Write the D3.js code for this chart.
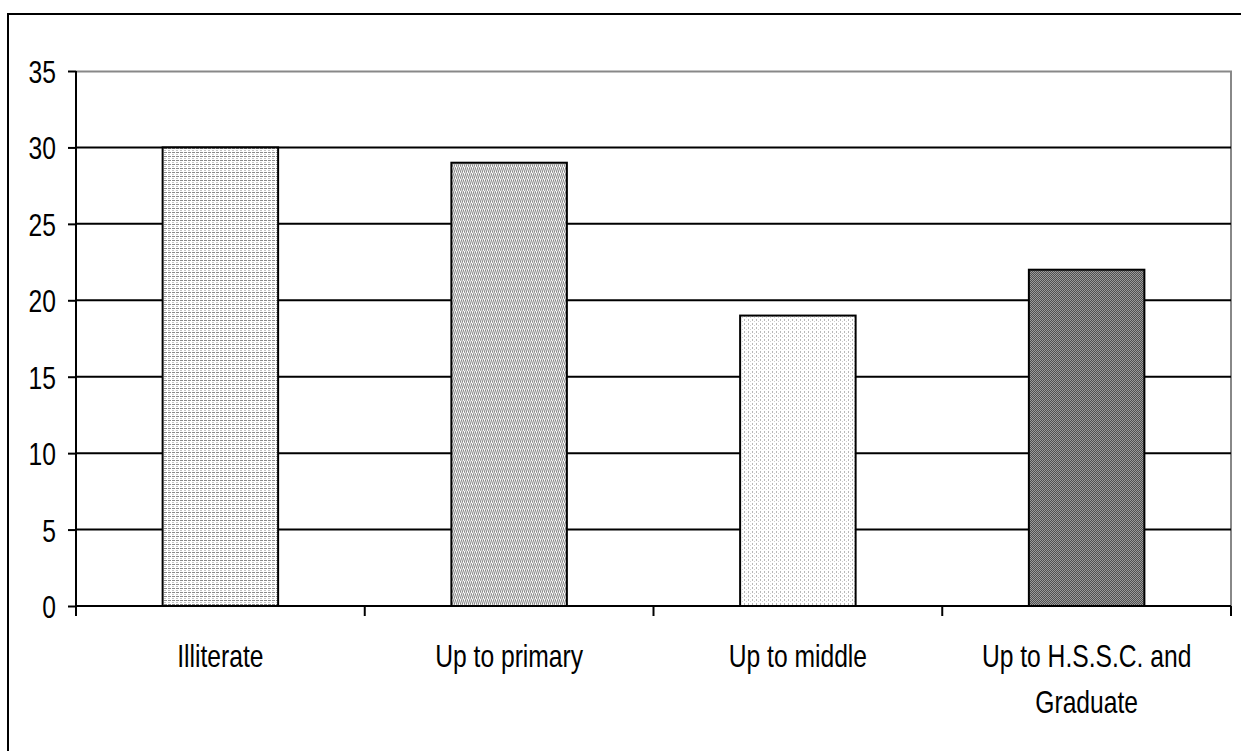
<!DOCTYPE html>
<html>
<head>
<meta charset="utf-8">
<script src="https://cdn.jsdelivr.net/npm/d3@7"></script>
<style>
  body { margin: 0; background: #fff; }
  svg { display: block; }
  .tick text { font-family: "Liberation Sans Narrow", "Arial Narrow", "Liberation Sans", sans-serif; font-size: 32px; fill: #000; }
  .cat-label { font-family: "Liberation Sans Narrow", "Arial Narrow", "Liberation Sans", sans-serif; font-size: 32px; fill: #000; }
</style>
</head>
<body>
<svg id="chart" width="1241" height="751"></svg>
<script>
const categories = ['Illiterate', 'Up to primary', 'Up to middle', 'Up to H.S.S.C. and Graduate'];
const values = [30, 29, 19, 22];
const yTicks = [0, 5, 10, 15, 20, 25, 30, 35];
const patternIds = ['pat-hdash', 'pat-zigzag', 'pat-dots', 'pat-check'];

const width = 1241;
const height = 751;
const margin = { top: 71, right: 10, bottom: 145, left: 76 };
const plotW = 1231 - margin.left;
const plotH = 606 - margin.top;
const squeeze = 0.77; // the original uses a narrow face, we condense the regular one

const svg = d3.select('#chart');

// fill patterns imitating the old office-style hatching
const defs = svg.append('defs');

const hdash = defs.append('pattern').attr('id', 'pat-hdash')
  .attr('patternUnits', 'userSpaceOnUse').attr('width', 4).attr('height', 4);
hdash.append('rect').attr('width', 4).attr('height', 4).attr('fill', '#fff');
hdash.append('rect').attr('x', 0).attr('y', 1).attr('width', 3).attr('height', 1).attr('fill', '#8a8a8a');
hdash.append('rect').attr('x', 0).attr('y', 3).attr('width', 2).attr('height', 1).attr('fill', '#c4c4c4');

const zig = defs.append('pattern').attr('id', 'pat-zigzag')
  .attr('patternUnits', 'userSpaceOnUse').attr('width', 4).attr('height', 6);
zig.append('rect').attr('width', 4).attr('height', 6).attr('fill', '#fff');
zig.append('path').attr('d', 'M0,6 L2,0 M2,6 L4,0').attr('stroke', '#8c8c8c').attr('stroke-width', 1.1).attr('fill', 'none');

const dots = defs.append('pattern').attr('id', 'pat-dots')
  .attr('patternUnits', 'userSpaceOnUse').attr('width', 4).attr('height', 4);
dots.append('rect').attr('width', 4).attr('height', 4).attr('fill', '#fff');
dots.append('rect').attr('x', 0).attr('y', 0).attr('width', 1).attr('height', 2).attr('fill', '#b8b8b8');
dots.append('rect').attr('x', 2).attr('y', 2).attr('width', 1).attr('height', 1).attr('fill', '#d0d0d0');

const check = defs.append('pattern').attr('id', 'pat-check')
  .attr('patternUnits', 'userSpaceOnUse').attr('width', 2).attr('height', 2);
check.append('rect').attr('width', 2).attr('height', 2).attr('fill', '#9a9a9a');
check.append('rect').attr('x', 0).attr('y', 0).attr('width', 1).attr('height', 1).attr('fill', '#505050');
check.append('rect').attr('x', 1).attr('y', 1).attr('width', 1).attr('height', 1).attr('fill', '#505050');

// outer chart frame: only left and top edges visible in the crop
svg.append('line').attr('x1', 8).attr('x2', 8).attr('y1', 13).attr('y2', height).attr('stroke', '#000').attr('stroke-width', 2);
svg.append('line').attr('x1', 7).attr('x2', width).attr('y1', 14).attr('y2', 14).attr('stroke', '#000').attr('stroke-width', 2);

const g = svg.append('g').attr('transform', `translate(${margin.left},${margin.top})`);

const x = d3.scaleBand().domain(categories).range([0, plotW]).paddingInner(0.6).paddingOuter(0.3);
const xOuter = d3.scaleBand().domain(categories).range([0, plotW]);
const y = d3.scaleLinear().domain([0, 35]).range([plotH, 0]);

// plot area border (grey top and right)
g.append('path')
  .attr('d', `M0,0.5 H${plotW} V${plotH}`)
  .attr('fill', 'none').attr('stroke', '#888').attr('stroke-width', 2);

// gridlines
g.selectAll('line.grid')
  .data(yTicks.filter(t => t > 0 && t < 35))
  .join('line')
  .attr('class', 'grid')
  .attr('x1', 0).attr('x2', plotW)
  .attr('y1', d => y(d)).attr('y2', d => y(d))
  .attr('stroke', '#000').attr('stroke-width', 2);

// bars
g.selectAll('rect.bar')
  .data(categories)
  .join('rect')
  .attr('class', 'bar')
  .attr('x', d => x(d))
  .attr('width', x.bandwidth())
  .attr('y', (d, i) => y(values[i]))
  .attr('height', (d, i) => plotH - y(values[i]))
  .attr('fill', (d, i) => `url(#${patternIds[i]})`)
  .attr('stroke', '#000').attr('stroke-width', 2);

// y axis
const yAxis = g.append('g')
  .call(d3.axisLeft(y).tickValues(yTicks).tickSize(8).tickFormat(d3.format('d')));
yAxis.select('.domain').attr('stroke', '#000').attr('stroke-width', 2).attr('d', `M0,${plotH}V0`);
yAxis.selectAll('.tick line').attr('stroke', '#000').attr('stroke-width', 2);
yAxis.selectAll('.tick text')
  .attr('x', 0)
  .attr('dy', '0.36em')
  .attr('transform', `translate(-20,0) scale(${squeeze},1)`);

// x axis baseline with separator ticks at category boundaries
const boundaries = categories.map(c => xOuter(c)).concat([plotW]);
g.append('line').attr('x1', 0).attr('x2', plotW).attr('y1', plotH).attr('y2', plotH)
  .attr('stroke', '#000').attr('stroke-width', 2);
g.selectAll('line.sep')
  .data(boundaries)
  .join('line')
  .attr('class', 'sep')
  .attr('x1', d => d).attr('x2', d => d)
  .attr('y1', plotH).attr('y2', plotH + 10)
  .attr('stroke', '#000').attr('stroke-width', 2);

// category labels, wrapped like the original
const wrapped = {
  'Up to H.S.S.C. and Graduate': ['Up to H.S.S.C. and', 'Graduate']
};
g.selectAll('text.cat-label')
  .data(categories)
  .join('text')
  .attr('class', 'cat-label')
  .attr('text-anchor', 'middle')
  .attr('transform', d => `translate(${xOuter(d) + xOuter.bandwidth() / 2},${plotH + 61}) scale(${squeeze},1)`)
  .each(function (d) {
    const lines = wrapped[d] || [d];
    d3.select(this).selectAll('tspan')
      .data(lines)
      .join('tspan')
      .attr('x', 0)
      .attr('dy', (l, i) => (i === 0 ? 0 : 46))
      .text(l => l);
  });
</script>
</body>
</html>
